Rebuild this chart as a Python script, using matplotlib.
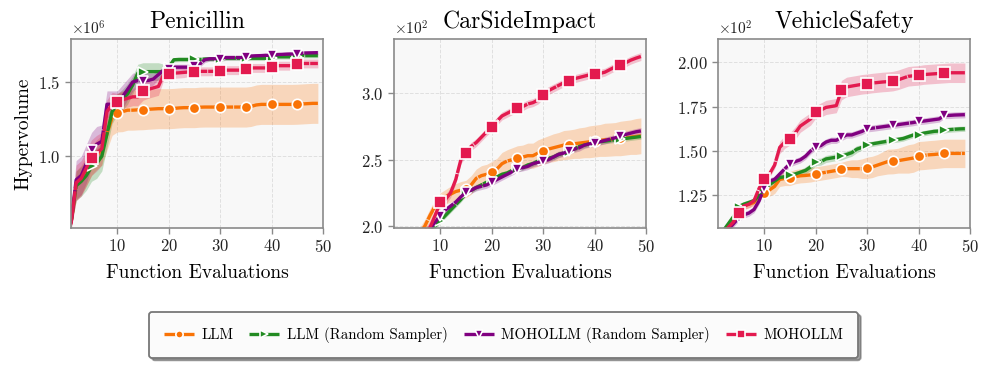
import matplotlib
matplotlib.use("Agg")
import matplotlib.pyplot as plt
from matplotlib.ticker import MultipleLocator, ScalarFormatter

plt.rcParams['font.family'] = ['cmr10', 'DejaVu Serif']
plt.rcParams['mathtext.fontset'] = 'cm'
plt.rcParams['axes.formatter.use_mathtext'] = True
plt.rcParams['axes.unicode_minus'] = False

evals = list(range(1, 50))
methods = ["LLM", "LLM (Random Sampler)", "MOHOLLM (Random Sampler)", "MOHOLLM"]
colors = ["#f97306", "#228b22", "#800080", "#e31a4f"]
markers = ["o", ">", "v", "s"]
titles = ["Penicillin", "CarSideImpact", "VehicleSafety"]
scales = [1e6, 1e2, 1e2]

# ---------------- Penicillin (x1e6) ----------------
pen_llm = [0.55, 0.80, 0.84, 0.90, 0.97, 1.01, 1.04, 1.15, 1.26, 1.293,
           1.30, 1.31, 1.31, 1.312, 1.313, 1.316, 1.318, 1.32, 1.32, 1.32,
           1.322, 1.325, 1.327, 1.327, 1.327, 1.33, 1.331, 1.331, 1.331, 1.331,
           1.331, 1.331, 1.331, 1.331, 1.331, 1.335, 1.345, 1.349, 1.349, 1.349,
           1.349, 1.349, 1.349, 1.349, 1.35, 1.352, 1.354, 1.356, 1.356]
pen_llm_sd = [0.04, 0.10, 0.10, 0.10, 0.10, 0.10, 0.10, 0.11, 0.12, 0.13,
              0.135, 0.135, 0.135, 0.135, 0.135, 0.135, 0.135, 0.135, 0.135, 0.135,
              0.135, 0.135, 0.135, 0.135, 0.135, 0.135, 0.135, 0.135, 0.135, 0.135,
              0.135, 0.135, 0.135, 0.135, 0.135, 0.135, 0.135, 0.135, 0.135, 0.135,
              0.135, 0.135, 0.135, 0.135, 0.135, 0.135, 0.135, 0.135, 0.135]
pen_llm_rs = [0.55, 0.80, 0.83, 0.87, 0.93, 0.95, 1.00, 1.15, 1.30, 1.35,
              1.38, 1.42, 1.48, 1.56, 1.57, 1.57, 1.57, 1.57, 1.57, 1.60,
              1.65, 1.652, 1.652, 1.652, 1.652, 1.652, 1.655, 1.655, 1.655, 1.655,
              1.66, 1.66, 1.66, 1.66, 1.66, 1.66, 1.66, 1.66, 1.66, 1.66,
              1.67, 1.67, 1.67, 1.67, 1.67, 1.678, 1.678, 1.678, 1.678]
pen_llm_rs_sd = [0.03, 0.10, 0.10, 0.10, 0.10, 0.10, 0.10, 0.09, 0.08, 0.07,
                 0.07, 0.07, 0.06, 0.06, 0.06, 0.06, 0.06, 0.06, 0.05, 0.03,
                 0.015, 0.015, 0.015, 0.015, 0.015, 0.015, 0.015, 0.015, 0.015, 0.015,
                 0.015, 0.015, 0.015, 0.015, 0.015, 0.015, 0.015, 0.015, 0.015, 0.015,
                 0.015, 0.015, 0.015, 0.015, 0.015, 0.015, 0.015, 0.015, 0.015]
pen_mo_rs = [0.55, 0.84, 0.87, 0.95, 1.04, 1.08, 1.10, 1.35, 1.35, 1.36,
             1.40, 1.45, 1.50, 1.51, 1.51, 1.51, 1.52, 1.55, 1.58, 1.586,
             1.60, 1.60, 1.60, 1.60, 1.606, 1.62, 1.65, 1.657, 1.657, 1.657,
             1.665, 1.665, 1.665, 1.665, 1.667, 1.675, 1.677, 1.678, 1.68, 1.68,
             1.685, 1.686, 1.688, 1.689, 1.69, 1.695, 1.696, 1.697, 1.698]
pen_mo_rs_sd = [0.04, 0.13, 0.13, 0.13, 0.12, 0.12, 0.11, 0.09, 0.09, 0.08,
                0.08, 0.07, 0.06, 0.05, 0.05, 0.05, 0.04, 0.03, 0.02, 0.02,
                0.02, 0.02, 0.02, 0.02, 0.02, 0.02, 0.02, 0.015, 0.015, 0.015,
                0.015, 0.015, 0.015, 0.015, 0.015, 0.015, 0.015, 0.015, 0.015, 0.015,
                0.015, 0.015, 0.015, 0.015, 0.015, 0.015, 0.015, 0.015, 0.015]
pen_mo = [0.54, 0.82, 0.85, 0.92, 0.99, 1.02, 1.05, 1.30, 1.35, 1.363,
          1.38, 1.39, 1.40, 1.40, 1.437, 1.45, 1.46, 1.47, 1.55, 1.554,
          1.56, 1.562, 1.565, 1.568, 1.57, 1.572, 1.572, 1.572, 1.572, 1.574,
          1.58, 1.58, 1.58, 1.58, 1.588, 1.595, 1.595, 1.595, 1.595, 1.60,
          1.61, 1.61, 1.61, 1.61, 1.624, 1.625, 1.625, 1.625, 1.625]
pen_mo_sd = [0.04, 0.12, 0.12, 0.12, 0.12, 0.12, 0.11, 0.08, 0.08, 0.06,
             0.06, 0.06, 0.06, 0.06, 0.06, 0.06, 0.06, 0.06, 0.04, 0.04,
             0.035, 0.035, 0.035, 0.03, 0.03, 0.03, 0.03, 0.03, 0.03, 0.03,
             0.03, 0.03, 0.03, 0.03, 0.03, 0.03, 0.03, 0.03, 0.03, 0.03,
             0.03, 0.03, 0.03, 0.03, 0.03, 0.03, 0.03, 0.03, 0.03]

# ---------------- CarSideImpact (x1e2) ----------------
car_llm = [1.60, 1.68, 1.75, 1.82, 1.88, 1.94, 2.00, 2.08, 2.15, 2.20,
           2.22, 2.24, 2.26, 2.27, 2.28, 2.31, 2.36, 2.38, 2.39, 2.406,
           2.43, 2.47, 2.49, 2.50, 2.515, 2.52, 2.53, 2.53, 2.55, 2.565,
           2.58, 2.59, 2.60, 2.61, 2.614, 2.62, 2.625, 2.63, 2.635, 2.64,
           2.645, 2.65, 2.652, 2.655, 2.66, 2.665, 2.67, 2.675, 2.68]
car_llm_sd = [0.05, 0.05, 0.05, 0.05, 0.05, 0.05, 0.05, 0.05, 0.05, 0.05,
              0.055, 0.06, 0.06, 0.065, 0.065, 0.07, 0.07, 0.075, 0.075, 0.08,
              0.08, 0.085, 0.085, 0.09, 0.09, 0.09, 0.095, 0.095, 0.10, 0.10,
              0.10, 0.105, 0.105, 0.11, 0.11, 0.11, 0.115, 0.115, 0.12, 0.12,
              0.12, 0.125, 0.125, 0.125, 0.13, 0.13, 0.13, 0.135, 0.135]
car_llm_rs = [1.55, 1.62, 1.68, 1.74, 1.80, 1.86, 1.91, 1.96, 2.00, 2.04,
              2.08, 2.12, 2.16, 2.20, 2.247, 2.27, 2.29, 2.31, 2.33, 2.35,
              2.37, 2.39, 2.40, 2.42, 2.43, 2.44, 2.46, 2.47, 2.49, 2.50,
              2.51, 2.52, 2.54, 2.55, 2.56, 2.58, 2.60, 2.61, 2.62, 2.63,
              2.635, 2.64, 2.645, 2.65, 2.655, 2.66, 2.665, 2.67, 2.675]
car_llm_rs_sd = [0.02] * 49
car_mo_rs = [1.55, 1.62, 1.70, 1.76, 1.82, 1.88, 1.93, 1.98, 2.03, 2.078,
             2.12, 2.15, 2.18, 2.22, 2.255, 2.27, 2.29, 2.30, 2.31, 2.33,
             2.35, 2.37, 2.39, 2.41, 2.432, 2.44, 2.45, 2.47, 2.48, 2.49,
             2.50, 2.52, 2.54, 2.55, 2.565, 2.58, 2.59, 2.61, 2.62, 2.626,
             2.635, 2.645, 2.655, 2.665, 2.677, 2.69, 2.70, 2.71, 2.717]
car_mo_rs_sd = [0.025] * 49
car_mo = [1.50, 1.60, 1.70, 1.78, 1.85, 1.90, 1.95, 1.99, 2.08, 2.179,
          2.20, 2.25, 2.35, 2.50, 2.553, 2.60, 2.63, 2.67, 2.71, 2.745,
          2.79, 2.83, 2.85, 2.87, 2.889, 2.90, 2.92, 2.93, 2.95, 2.99,
          3.02, 3.04, 3.06, 3.08, 3.093, 3.11, 3.12, 3.13, 3.14, 3.146,
          3.15, 3.16, 3.18, 3.20, 3.214, 3.23, 3.25, 3.265, 3.278]
car_mo_sd = [0.04, 0.04, 0.04, 0.04, 0.04, 0.04, 0.04, 0.04, 0.04, 0.04,
             0.04, 0.035, 0.03, 0.03, 0.03, 0.03, 0.03, 0.03, 0.03, 0.03,
             0.03, 0.03, 0.03, 0.03, 0.03, 0.03, 0.03, 0.03, 0.03, 0.03,
             0.03, 0.03, 0.03, 0.03, 0.03, 0.03, 0.03, 0.03, 0.03, 0.03,
             0.03, 0.03, 0.03, 0.03, 0.03, 0.03, 0.03, 0.03, 0.03]

# ---------------- VehicleSafety (x1e2) ----------------
veh_llm = [1.00, 1.04, 1.07, 1.10, 1.17, 1.19, 1.20, 1.21, 1.25, 1.265,
           1.28, 1.30, 1.34, 1.345, 1.345, 1.355, 1.36, 1.362, 1.365, 1.371,
           1.375, 1.38, 1.385, 1.39, 1.396, 1.40, 1.40, 1.40, 1.40, 1.405,
           1.41, 1.42, 1.43, 1.44, 1.441, 1.445, 1.45, 1.455, 1.46, 1.473,
           1.475, 1.478, 1.48, 1.483, 1.486, 1.486, 1.486, 1.486, 1.486]
veh_llm_sd = [0.02, 0.02, 0.02, 0.02, 0.02, 0.02, 0.02, 0.02, 0.02, 0.03,
              0.035, 0.04, 0.04, 0.04, 0.04, 0.04, 0.04, 0.04, 0.04, 0.04,
              0.04, 0.04, 0.04, 0.04, 0.04, 0.045, 0.05, 0.05, 0.055, 0.06,
              0.06, 0.06, 0.065, 0.07, 0.07, 0.07, 0.075, 0.08, 0.08, 0.08,
              0.08, 0.08, 0.08, 0.08, 0.08, 0.08, 0.08, 0.08, 0.08]
veh_llm_rs = [1.00, 1.05, 1.09, 1.13, 1.186, 1.20, 1.21, 1.22, 1.25, 1.29,
              1.31, 1.33, 1.35, 1.355, 1.364, 1.37, 1.38, 1.39, 1.41, 1.437,
              1.44, 1.455, 1.46, 1.465, 1.469, 1.48, 1.49, 1.51, 1.52, 1.535,
              1.54, 1.545, 1.55, 1.555, 1.561, 1.565, 1.57, 1.58, 1.59, 1.591,
              1.60, 1.605, 1.61, 1.612, 1.616, 1.62, 1.622, 1.624, 1.625]
veh_llm_rs_sd = [0.015, 0.015, 0.015, 0.015, 0.015, 0.015, 0.015, 0.015, 0.015, 0.015,
                 0.015, 0.015, 0.015, 0.015, 0.015, 0.015, 0.015, 0.02, 0.02, 0.02,
                 0.02, 0.02, 0.02, 0.02, 0.02, 0.02, 0.02, 0.02, 0.015, 0.015,
                 0.015, 0.015, 0.015, 0.015, 0.015, 0.015, 0.015, 0.015, 0.015, 0.015,
                 0.015, 0.015, 0.015, 0.015, 0.015, 0.015, 0.015, 0.015, 0.015]
veh_mo_rs = [0.98, 1.02, 1.06, 1.09, 1.122, 1.14, 1.15, 1.17, 1.22, 1.293,
             1.33, 1.34, 1.37, 1.40, 1.428, 1.44, 1.45, 1.47, 1.50, 1.523,
             1.53, 1.55, 1.56, 1.56, 1.576, 1.59, 1.59, 1.60, 1.61, 1.625,
             1.628, 1.632, 1.636, 1.64, 1.644, 1.648, 1.652, 1.656, 1.66, 1.666,
             1.668, 1.672, 1.676, 1.68, 1.70, 1.70, 1.702, 1.703, 1.704]
veh_mo_rs_sd = [0.018] * 49
veh_mo = [0.98, 1.03, 1.07, 1.10, 1.149, 1.19, 1.20, 1.22, 1.29, 1.34,
          1.37, 1.42, 1.52, 1.55, 1.568, 1.60, 1.64, 1.66, 1.68, 1.719,
          1.73, 1.745, 1.75, 1.755, 1.842, 1.86, 1.865, 1.87, 1.875, 1.878,
          1.882, 1.885, 1.888, 1.89, 1.893, 1.90, 1.91, 1.92, 1.923, 1.925,
          1.93, 1.932, 1.934, 1.936, 1.938, 1.94, 1.94, 1.94, 1.94]
veh_mo_sd = [0.02, 0.02, 0.02, 0.02, 0.02, 0.02, 0.02, 0.02, 0.02, 0.02,
             0.02, 0.02, 0.035, 0.035, 0.035, 0.035, 0.035, 0.035, 0.035, 0.035,
             0.04, 0.04, 0.04, 0.04, 0.055, 0.055, 0.055, 0.055, 0.055, 0.055,
             0.055, 0.055, 0.055, 0.055, 0.055, 0.055, 0.055, 0.055, 0.055, 0.055,
             0.055, 0.055, 0.055, 0.055, 0.055, 0.055, 0.055, 0.055, 0.055]

panels = [
    [(pen_llm, pen_llm_sd), (pen_llm_rs, pen_llm_rs_sd), (pen_mo_rs, pen_mo_rs_sd), (pen_mo, pen_mo_sd)],
    [(car_llm, car_llm_sd), (car_llm_rs, car_llm_rs_sd), (car_mo_rs, car_mo_rs_sd), (car_mo, car_mo_sd)],
    [(veh_llm, veh_llm_sd), (veh_llm_rs, veh_llm_rs_sd), (veh_mo_rs, veh_mo_rs_sd), (veh_mo, veh_mo_sd)],
]
ylims = [(0.515, 1.79), (1.985, 3.41), (1.066, 2.13)]
ysteps = [0.5, 0.5, 0.25]

fig = plt.figure(figsize=(9.86, 3.67), dpi=100)
lefts = [0.072, 0.3996, 0.7282]
axes = [fig.add_axes([l, 0.3787, 0.2556, 0.515]) for l in lefts]

mark_idx = [evals.index(v) for v in (5, 10, 15, 20, 25, 30, 35, 40, 45)]
handles = []
for ax, title, scale, series, yl, ys in zip(axes, titles, scales, panels, ylims, ysteps):
    ax.set_facecolor("#f8f8f8")
    for (mean, sd), name, c, m in zip(series, methods, colors, markers):
        mu = [v * scale for v in mean]
        lo = [(v - s) * scale for v, s in zip(mean, sd)]
        hi = [(v + s) * scale for v, s in zip(mean, sd)]
        ax.fill_between(evals, lo, hi, color=c, alpha=0.25, linewidth=0)
        ms = 8 if m == "s" else 7.5
        h, = ax.plot(evals, mu, color=c, lw=2.4, marker=m, markevery=mark_idx,
                     markersize=ms, markeredgecolor="white", markeredgewidth=1.2,
                     label=name, linestyle=(0, (10, 0.3)))
        if ax is axes[0]:
            handles.append(h)
    ax.set_xlim(1, 50)
    ax.set_ylim(yl[0] * scale, yl[1] * scale)
    ax.xaxis.set_major_locator(MultipleLocator(10))
    ax.yaxis.set_major_locator(MultipleLocator(ys * scale))
    fmt = ScalarFormatter(useMathText=True)
    fmt.set_powerlimits((0, 0))
    ax.yaxis.set_major_formatter(fmt)
    ax.grid(True, linestyle="--", color="#e0e0e0", linewidth=0.7)
    ax.set_axisbelow(True)
    for sp in ax.spines.values():
        sp.set_color("#8a8a8a")
        sp.set_linewidth(1.2)
    ax.tick_params(axis="both", labelsize=12, length=4, width=1, direction="out",
                   colors="#8a8a8a", labelcolor="#222222")
    ax.yaxis.get_offset_text().set_fontsize(11)
    ax.set_title(title, fontsize=17, pad=8)
    ax.set_xlabel("Function Evaluations", fontsize=14, labelpad=6)

axes[0].set_ylabel("Hypervolume", fontsize=14)

leg = fig.legend(handles, methods, loc="center", bbox_to_anchor=(0.5107, 0.088), ncol=4,
                 fontsize=10.7, frameon=True, fancybox=True, shadow=True,
                 handlelength=2.0, handletextpad=0.5, columnspacing=1.1,
                 borderpad=1.0, markerscale=0.7)
leg.get_frame().set_edgecolor("#777777")
leg.get_frame().set_linewidth(1.3)
leg.get_frame().set_facecolor("#fbfbfb")

fig.savefig("out.png", dpi=100)
